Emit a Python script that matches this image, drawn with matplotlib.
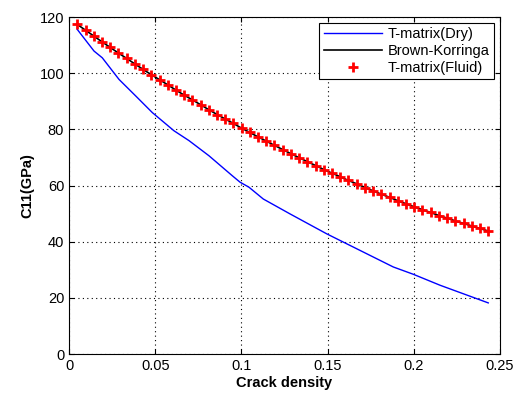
import matplotlib
matplotlib.use("Agg")
import matplotlib.pyplot as plt

# crack density samples (T-matrix fluid / Brown-Korringa)
density = [0.0048, 0.0096, 0.0143, 0.0191, 0.0239, 0.0286, 0.0334, 0.0382, 0.0429, 0.0477,
           0.0525, 0.0572, 0.0620, 0.0668, 0.0716, 0.0763, 0.0811, 0.0859, 0.0906, 0.0954,
           0.1002, 0.1049, 0.1097, 0.1145, 0.1192, 0.1240, 0.1288, 0.1335, 0.1383, 0.1431,
           0.1478, 0.1526, 0.1574, 0.1621, 0.1669, 0.1717, 0.1764, 0.1812, 0.1860, 0.1907,
           0.1955, 0.2003, 0.2050, 0.2098, 0.2146, 0.2193, 0.2241, 0.2289, 0.2336, 0.2384,
           0.2432]
c11_fluid = [117.4, 115.3, 113.3, 111.2, 109.2, 107.2, 105.3, 103.3, 101.4, 99.5,
             97.7, 95.9, 94.0, 92.2, 90.5, 88.8, 87.0, 85.3, 83.7, 82.1,
             80.4, 78.9, 77.3, 75.8, 74.3, 72.8, 71.3, 69.9, 68.5, 67.1,
             65.7, 64.4, 63.1, 61.8, 60.6, 59.3, 58.1, 56.9, 55.8, 54.6,
             53.5, 52.4, 51.4, 50.4, 49.3, 48.4, 47.4, 46.5, 45.6, 44.7,
             43.8]
c11_brown = c11_fluid

density_dry = [0.0048, 0.0145, 0.0193, 0.029, 0.0387, 0.0483, 0.0609, 0.0696, 0.0812,
               0.0947, 0.0992, 0.1044, 0.1127, 0.1282, 0.1495, 0.1688, 0.1881, 0.1997,
               0.2152, 0.2432]
c11_dry = [115.6, 107.9, 105.5, 97.8, 91.9, 86.0, 79.5, 76.0, 70.6,
           63.5, 61.2, 59.4, 55.2, 49.9, 42.8, 36.9, 31.0, 28.4,
           24.5, 18.2]

plt.rcParams['font.family'] = ['Liberation Sans', 'DejaVu Sans']
plt.rcParams['font.size'] = 10

fig = plt.figure(figsize=(5.2, 3.97), dpi=100)
ax = fig.add_axes([0.1327, 0.1083, 0.8288, 0.8487])

ax.plot(density_dry, c11_dry, color='#0000ff', lw=1.0, label='T-matrix(Dry)')
ax.plot(density, c11_brown, color='black', lw=1.2, label='Brown-Korringa')
ax.plot(density, c11_fluid, ls='none', marker='+', color='red', ms=7, mew=2,
        label='T-matrix(Fluid)')

ax.set_xlim(0, 0.25)
ax.set_ylim(0, 120)
ax.set_xticks([0, 0.05, 0.1, 0.15, 0.2, 0.25])
ax.set_xticklabels(['0', '0.05', '0.1', '0.15', '0.2', '0.25'])
ax.set_yticks([0, 20, 40, 60, 80, 100, 120])
ax.grid(True, ls=(0, (1, 3)), color='black', lw=0.8)
ax.tick_params(direction='in', top=True, right=True, labelsize=10.5)
ax.set_xlabel('Crack density', fontweight='bold', fontsize=10.5, labelpad=2)
ax.set_ylabel('C11(GPa)', fontweight='bold', fontsize=10.5, labelpad=4)

leg = ax.legend(loc='upper right', fontsize=10.5, fancybox=False, framealpha=1,
                edgecolor='black', borderaxespad=0.4, handlelength=4.0,
                borderpad=0.3, labelspacing=0.2, handletextpad=0.4)
leg.get_frame().set_linewidth(0.8)

fig.savefig('out.png', dpi=100)
